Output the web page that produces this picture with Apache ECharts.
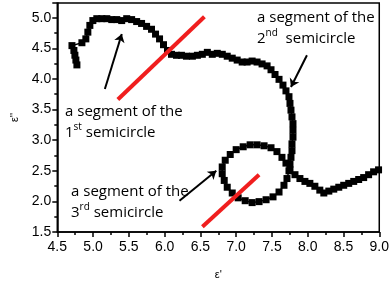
<!DOCTYPE html>
<html>
<head>
<meta charset="utf-8">
<script src="https://cdn.jsdelivr.net/npm/echarts@6/dist/echarts.min.js"></script>
<style>html,body{margin:0;padding:0;background:#fff}#c{width:392px;height:285px}</style>
</head>
<body>
<div id="c"></div>
<script>
// ε' values
var epsReal = [4.774,4.760,4.746,4.732,4.705,4.844,4.899,4.927,4.955,4.997,5.052,5.122,5.192,5.261,5.331,5.400,5.470,5.539,5.609,5.678,5.748,5.817,5.873,5.929,5.984,6.040,6.096,6.166,6.235,6.305,6.388,6.458,6.527,6.597,6.666,6.736,6.806,6.875,6.945,7.014,7.084,7.153,7.223,7.292,7.362,7.432,7.487,7.543,7.599,7.654,7.696,7.738,7.752,7.766,7.780,7.794,7.794,7.794,7.780,7.780,7.766,7.752,7.738,7.710,7.668,7.599,7.515,7.418,7.320,7.223,7.126,7.028,6.945,6.875,6.833,6.805,6.805,6.847,6.917,7.000,7.098,7.195,7.292,7.390,7.487,7.570,7.640,7.696,7.752,7.822,7.891,7.961,8.030,8.100,8.169,8.225,8.295,8.364,8.434,8.503,8.573,8.643,8.712,8.782,8.851,8.921,8.990];
// ε'' values
var epsImag = [4.229,4.308,4.387,4.465,4.544,4.591,4.654,4.764,4.874,4.953,4.984,4.984,4.984,4.969,4.969,4.953,4.984,4.969,4.937,4.906,4.858,4.811,4.732,4.654,4.559,4.465,4.402,4.386,4.386,4.371,4.371,4.386,4.402,4.434,4.402,4.418,4.402,4.371,4.339,4.308,4.276,4.276,4.292,4.276,4.245,4.213,4.150,4.072,3.993,3.899,3.805,3.710,3.600,3.490,3.380,3.270,3.160,3.049,2.939,2.829,2.719,2.609,2.499,2.373,2.263,2.153,2.074,2.027,1.996,1.980,2.011,2.058,2.137,2.231,2.342,2.452,2.562,2.672,2.766,2.845,2.892,2.924,2.924,2.908,2.876,2.813,2.719,2.625,2.515,2.436,2.373,2.326,2.294,2.247,2.184,2.137,2.168,2.200,2.231,2.263,2.294,2.326,2.357,2.389,2.436,2.483,2.515];

// annotation segments [x1,y1,x2,y2]
var redLines = [[5.346,3.663,6.556,5.016],[6.528,1.587,7.320,2.436]];
var arrows = [[5.165,3.836,5.401,4.733],[7.989,4.386,7.766,3.867],[6.208,2.011,6.722,2.499]];
var xTicks = {min:4.5, max:9.0, interval:0.5};
var yTicks = {min:1.5, max:5.24, interval:0.5};

var pts = epsReal.map(function(x,i){return [x, epsImag[i]];});
function seg(a){return {coords:[[a[0],a[1]],[a[2],a[3]]]};}

var chart = echarts.init(document.getElementById('c'), null, {renderer:'canvas'});
var labelFont = {fontFamily:'Liberation Sans, Arial, sans-serif', fontSize:14, color:'#000'};
var txtRich = {
  n:{fontFamily:'Open Sans', fontSize:15, color:'#000', lineHeight:21},
  s:{fontFamily:'Open Sans', fontSize:10, color:'#000', lineHeight:21, verticalAlign:'top', padding:[0,0,6,0]}
};
chart.setOption({
  animation:false,
  backgroundColor:'#fff',
  grid:{left:57.3, right:11.3, top:3, bottom:44.5, show:true, borderColor:'#000', borderWidth:1.5, backgroundColor:'transparent'},
  xAxis:{type:'value', min:xTicks.min, max:xTicks.max, interval:xTicks.interval,
    name:"ε'", nameLocation:'middle', nameGap:37, nameTextStyle:{fontFamily:'Liberation Sans', fontSize:11, color:'#000'},
    axisLine:{onZero:false, lineStyle:{color:'#000', width:1.5}},
    axisTick:{show:true, inside:false, length:5, lineStyle:{color:'#000', width:1.5}},
    minorTick:{show:true, splitNumber:2, length:3, lineStyle:{color:'#000', width:1.5}},
    splitLine:{show:false},
    axisLabel:Object.assign({margin:8, formatter:function(v){return v.toFixed(1);}}, labelFont)
  },
  yAxis:{type:'value', min:yTicks.min, max:yTicks.max, interval:yTicks.interval,
    name:"ε''", nameLocation:'middle', nameGap:31, nameRotate:90, nameTextStyle:{fontFamily:'Liberation Sans', fontSize:11, color:'#000'},
    axisLine:{onZero:false, lineStyle:{color:'#000', width:1.5}},
    axisTick:{show:true, inside:false, length:5, lineStyle:{color:'#000', width:1.5}},
    minorTick:{show:true, splitNumber:2, length:3, lineStyle:{color:'#000', width:1.5}},
    splitLine:{show:false},
    axisLabel:Object.assign({margin:6, showMaxLabel:false, formatter:function(v){return v.toFixed(1);}}, labelFont)
  },
  series:[
    {type:'line', data:pts, symbol:'rect', symbolSize:7, showSymbol:true,
      lineStyle:{color:'#000', width:1.5}, itemStyle:{color:'#000'}, z:3},
    {type:'lines', coordinateSystem:'cartesian2d', data:redLines.map(seg), symbol:['none','none'],
      lineStyle:{color:'#f01e1e', width:4, opacity:1}, z:4},
    {type:'lines', coordinateSystem:'cartesian2d', data:arrows.map(seg), symbol:['none','arrow'], symbolSize:8,
      lineStyle:{color:'#000', width:2, opacity:1}, z:4}
  ],
  graphic:[
    {type:'text', left:65, top:104, style:{text:'{n|a segment of the}\n{n|1}{s|st}{n| semicircle}', rich:txtRich}},
    {type:'text', left:257, top:10, style:{text:'{n|a segment of the}\n{n|2}{s|nd}{n|  semicircle}', rich:txtRich}},
    {type:'text', left:71, top:184, style:{text:'{n|a segment of the}\n{n|3}{s|rd}{n| semicircle}', rich:txtRich}}
  ]
});
</script>
</body>
</html>
